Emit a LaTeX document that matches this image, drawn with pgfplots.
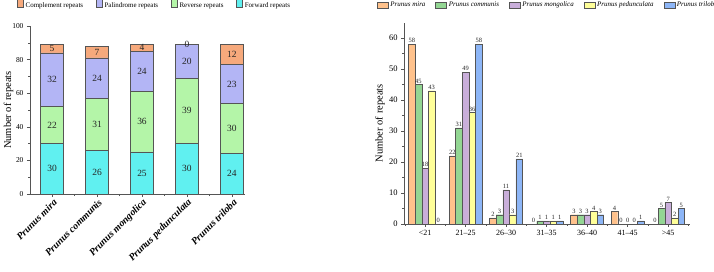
\documentclass[border=0pt]{standalone}
\usepackage{fontspec}
\setmainfont{Liberation Serif}
\usepackage{pgfplots}
\pgfplotsset{compat=1.18}
\usepackage{pgfplotstable}

\definecolor{cCompl}{HTML}{F6A97C}
\definecolor{cPalin}{HTML}{B3B5F5}
\definecolor{cRev}{HTML}{B4F5A8}
\definecolor{cFwd}{HTML}{60F0F0}
\definecolor{cMira}{HTML}{FFC28C}
\definecolor{cComm}{HTML}{93D693}
\definecolor{cMong}{HTML}{C9AEDA}
\definecolor{cPed}{HTML}{FFFF99}
\definecolor{cTril}{HTML}{8DB6F7}
\definecolor{edge}{HTML}{555555}

% repeat types per species
\pgfplotstableread{
x forward reverse palindrome complement
0 30 22 32 5
1 26 31 24 7
2 25 36 24 4
3 30 39 20 0
4 24 30 23 12
}\repeattypes

% repeat length classes per species
\pgfplotstableread{
x mira communis mongolica pedunculata triloba
0 58 45 18 43 0
1 22 31 49 36 58
2 2 3 11 3 21
3 0 1 1 1 1
4 3 3 3 4 3
5 4 0 0 0 1
6 0 5 7 2 5
}\repeatlengths

\pgfplotsset{
  /pgf/number format/assume math mode=true,
  % flat swatches for bar legends
  ybar legend/.style={legend image code/.code={\draw[##1, draw=edge] (0bp,-3bp) rectangle (11bp,3bp);}},
  common/.style={
    scale only axis,
    axis x line=bottom, axis y line=left,
    axis line style={-, draw=edge},
    tick style={draw=edge, thin},
    tick align=outside,
    major tick length=3bp, minor tick length=2bp,
    legend columns=-1,
    ylabel style={font=\fontsize{10.5}{11}\selectfont, anchor=center},
  },
}

\begin{document}
\begin{tikzpicture}
\path[use as bounding box] (0,0) rectangle (714bp,272bp);

% ---- left: stacked repeat types ----
\begin{axis}[common,
  at={(30bp,78bp)}, anchor=south west,
  width=215bp, height=168bp,
  xmin=-0.49, xmax=4.29, ymin=0, ymax=100,
  ybar stacked, bar width=0.51,
  ytick={0,20,...,100}, minor y tick num=1,
  xtick={0,...,4}, minor xtick={0.5,1.5,2.5,3.5},
  xticklabels={Prunus mira, Prunus communis, Prunus mongolica, Prunus pedunculata, Prunus triloba},
  xticklabel style={rotate=45, anchor=east, xshift=3bp, yshift=-5bp, font=\fontsize{10}{11}\selectfont\bfseries\itshape},
  yticklabel style={font=\fontsize{7.5}{8}\selectfont},
  ylabel={Number of repeats},
  ylabel style={at={(axis description cs:-0.1,0.5)}},
  reverse legend,
  legend style={draw=none, fill=none, at={(-0.06,1.125)}, anchor=west,
    font=\fontsize{7}{8}\selectfont, inner sep=0pt,
    /tikz/every even column/.append style={column sep=11bp}},
]
\addplot[fill=cFwd, draw=edge] table[x=x, y=forward] {\repeattypes};
\addlegendentry{Forward repeats}
\addplot[fill=cRev, draw=edge] table[x=x, y=reverse] {\repeattypes};
\addlegendentry{Reverse repeats}
\addplot[fill=cPalin, draw=edge] table[x=x, y=palindrome] {\repeattypes};
\addlegendentry{Palindrome repeats}
\addplot[fill=cCompl, draw=edge] table[x=x, y=complement] {\repeattypes};
\addlegendentry{Complement repeats}
\end{axis}

% segment values, centred in each segment
\begin{axis}[
  at={(30bp,78bp)}, anchor=south west, scale only axis,
  width=215bp, height=168bp,
  xmin=-0.49, xmax=4.29, ymin=0, ymax=100,
  hide axis, clip=false,
  nodes near coords, point meta=explicit,
  every node near coord/.style={anchor=center, font=\fontsize{9.5}{10}\selectfont, text=black!85},
]
\addplot[only marks, mark=*, mark size=0pt, mark options={draw=none, fill=none}]
  table[x=x, y expr=\thisrow{forward}/2, meta=forward] {\repeattypes};
\addplot[only marks, mark=*, mark size=0pt, mark options={draw=none, fill=none}]
  table[x=x, y expr=\thisrow{forward}+\thisrow{reverse}/2, meta=reverse] {\repeattypes};
\addplot[only marks, mark=*, mark size=0pt, mark options={draw=none, fill=none}]
  table[x=x, y expr=\thisrow{forward}+\thisrow{reverse}+\thisrow{palindrome}/2, meta=palindrome] {\repeattypes};
\addplot[only marks, mark=*, mark size=0pt, mark options={draw=none, fill=none}]
  table[x=x, y expr=\thisrow{forward}+\thisrow{reverse}+\thisrow{palindrome}+\thisrow{complement}/2, meta=complement] {\repeattypes};
\end{axis}

% ---- right: repeat length classes ----
\begin{axis}[common,
  at={(404bp,48bp)}, anchor=south west,
  width=286bp, height=201.5bp,
  xmin=-0.52, xmax=6.54, ymin=0, ymax=65,
  ybar=0pt, bar width=6.6bp,
  ytick={0,10,...,60}, minor y tick num=1,
  xtick={0,...,6}, minor xtick={-0.5,0.5,...,6.5},
  xticklabels={<21, 21–25, 26–30, 31–35, 36–40, 41–45, >45},
  xticklabel style={font=\fontsize{8}{9}\selectfont},
  yticklabel style={font=\fontsize{8.5}{9}\selectfont},
  ylabel={Number of repeats},
  ylabel style={at={(axis description cs:-0.084,0.5)}},
  nodes near coords,
  every node near coord/.append style={font=\fontsize{6.5}{7}\selectfont, inner sep=1bp, text=black!85},
  legend style={draw=none, fill=none, at={(-0.095,1.087)}, anchor=west,
    font=\fontsize{7}{8}\selectfont\itshape, inner sep=0pt,
    /tikz/every even column/.append style={column sep=8bp}},
]
\addplot[fill=cMira, draw=edge] table[x=x, y=mira] {\repeatlengths};
\addlegendentry{Prunus mira}
\addplot[fill=cComm, draw=edge] table[x=x, y=communis] {\repeatlengths};
\addlegendentry{Prunus communis}
\addplot[fill=cMong, draw=edge] table[x=x, y=mongolica] {\repeatlengths};
\addlegendentry{Prunus mongolica}
\addplot[fill=cPed, draw=edge] table[x=x, y=pedunculata] {\repeatlengths};
\addlegendentry{Prunus pedunculata}
\addplot[fill=cTril, draw=edge] table[x=x, y=triloba] {\repeatlengths};
\addlegendentry{Prunus triloba}
\end{axis}
\end{tikzpicture}
\end{document}
